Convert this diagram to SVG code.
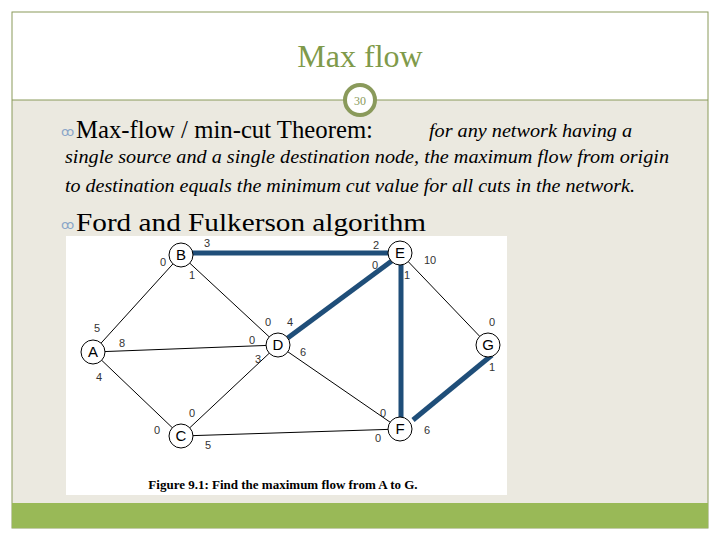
<svg xmlns="http://www.w3.org/2000/svg" width="720" height="540" viewBox="0 0 720 540">
<style>
.e{stroke:#000;stroke-width:1;fill:none}
.h{stroke:#1f4e79;stroke-width:5;fill:none}
.n circle{fill:#fff;stroke:#000;stroke-width:1}
.n text{font-family:"Liberation Sans",Arial,sans-serif;font-size:15px;text-anchor:middle;fill:#000}
.l{font-family:"Liberation Sans",Arial,sans-serif;font-size:11px;fill:#333;text-anchor:middle}
.s{font-family:"Liberation Serif","Times New Roman",serif;fill:#000}
.b{fill:#8aa6c8;font-family:"DejaVu Sans",sans-serif;font-size:13px}
</style>
<rect x="0" y="0" width="720" height="540" fill="#fff"/>
<rect x="12" y="100" width="696" height="428" fill="#ebe9e0"/>
<rect x="12" y="12" width="696" height="516" fill="none" stroke="#8a9a5b" stroke-width="1"/>
<line x1="12" y1="100" x2="708" y2="100" stroke="#8a9a5b"/>
<rect x="12" y="503" width="696" height="25" fill="#99b957"/>
<text x="360" y="67" text-anchor="middle" class="s" font-size="32" style="fill:#7f9a4a">Max flow</text>
<circle cx="360" cy="100" r="15" fill="#fff" stroke="#8a9a5b" stroke-width="4"/>
<text x="360" y="105" text-anchor="middle" class="s" font-size="12" style="fill:#8a9a5b">30</text>
<text x="61" y="136" class="b">ꝏ</text>
<text x="76" y="138" class="s" font-size="26" textLength="297" lengthAdjust="spacingAndGlyphs">Max-flow / min-cut Theorem:</text>
<text x="429" y="137" class="s" font-size="18" font-style="italic" textLength="203" lengthAdjust="spacingAndGlyphs" text-anchor="start">for any network having a</text>
<text x="65" y="163" class="s" font-size="18" font-style="italic" textLength="604" lengthAdjust="spacingAndGlyphs">single source and a single destination node, the maximum flow from origin</text>
<text x="65" y="192" class="s" font-size="18" font-style="italic" textLength="570" lengthAdjust="spacingAndGlyphs">to destination equals the minimum cut value for all cuts in the network.</text>
<text x="61" y="229" class="b">ꝏ</text>
<text x="76" y="231" class="s" font-size="26" textLength="350" lengthAdjust="spacingAndGlyphs">Ford and Fulkerson algorithm</text>
<rect x="66" y="236" width="441" height="259" fill="#fff"/>
<g id="connectors">
<line class="e" x1="93" y1="352" x2="181" y2="255"/>
<line class="e" x1="93" y1="352" x2="278" y2="345"/>
<line class="e" x1="93" y1="352" x2="181" y2="436"/>
<line class="e" x1="181" y1="255" x2="278" y2="345"/>
<line class="e" x1="181" y1="436" x2="278" y2="345"/>
<line class="e" x1="181" y1="436" x2="400" y2="429"/>
<line class="e" x1="278" y1="345" x2="400" y2="429"/>
<line class="e" x1="400" y1="253" x2="488" y2="345"/>
<line class="h" x1="190" y1="253" x2="390" y2="253"/>
<line class="h" x1="285" y1="340" x2="393" y2="260"/>
<line class="h" x1="401" y1="265" x2="401" y2="418"/>
<line class="h" x1="413" y1="420" x2="492" y2="355"/>
</g>
<g id="B" class="n"><circle cx="181" cy="255" r="12"/><text x="181" y="260">B</text></g>
<g id="E" class="n"><circle cx="400" cy="253" r="12"/><text x="400" y="258">E</text></g>
<g id="A" class="n"><circle cx="93" cy="352" r="12"/><text x="93" y="357">A</text></g>
<g id="D" class="n"><circle cx="278" cy="345" r="12"/><text x="278" y="350">D</text></g>
<g id="G" class="n"><circle cx="488" cy="345" r="12"/><text x="488" y="350">G</text></g>
<g id="C" class="n"><circle cx="181" cy="436" r="12"/><text x="181" y="441">C</text></g>
<g id="F" class="n"><circle cx="400" cy="429" r="12"/><text x="400" y="434">F</text></g>
<g id="labels">
<text class="l" x="163" y="266">0</text><text class="l" x="207" y="247">3</text><text class="l" x="192" y="279">1</text>
<text class="l" x="376" y="249">2</text><text class="l" x="430" y="264">10</text><text class="l" x="375" y="269">0</text><text class="l" x="407" y="279">1</text>
<text class="l" x="97" y="332">5</text><text class="l" x="122" y="347">8</text><text class="l" x="99" y="381">4</text>
<text class="l" x="268" y="326">0</text><text class="l" x="290" y="326">4</text><text class="l" x="252" y="344">0</text><text class="l" x="303" y="356">6</text><text class="l" x="258" y="363">3</text>
<text class="l" x="492" y="326">0</text><text class="l" x="492" y="371">1</text>
<text class="l" x="192" y="417">0</text><text class="l" x="157" y="434">0</text><text class="l" x="208" y="449">5</text>
<text class="l" x="383" y="417">0</text><text class="l" x="378" y="442">0</text><text class="l" x="427" y="434">6</text>
</g>
<text x="283" y="489" text-anchor="middle" class="s" font-size="13" font-weight="bold">Figure 9.1: Find the maximum flow from A to G.</text>
</svg>
